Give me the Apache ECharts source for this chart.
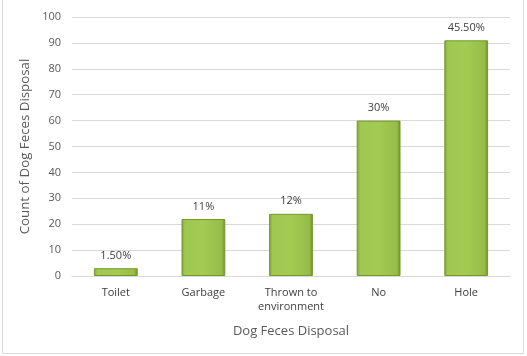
<!DOCTYPE html>
<html><head><meta charset="utf-8">
<script src="https://cdn.jsdelivr.net/npm/echarts@6/dist/echarts.min.js"></script>
<style>html,body{margin:0;padding:0;background:#fff}#c{width:527px;height:356px}</style>
</head><body><div id="c"></div>
<script>
const categories = ['Toilet', 'Garbage', 'Thrown to\nenvironment', 'No', 'Hole'];
const counts = [3, 22, 24, 60, 91];
const percentLabels = ['1.50%', '11%', '12%', '30%', '45.50%'];
const yTicks = [0, 10, 20, 30, 40, 50, 60, 70, 80, 90, 100];

const chart = echarts.init(document.getElementById('c'), null, {renderer: 'canvas'});
const font = '"Open Sans", "Noto Sans", sans-serif';
chart.setOption({
  animation: false,
  backgroundColor: '#fff',
  grid: {left: 72, right: 17, top: 17, bottom: 80},
  xAxis: {
    type: 'category', data: categories,
    name: 'Dog Feces Disposal', nameLocation: 'middle', nameGap: 49,
    nameTextStyle: {color: '#595959', fontSize: 13, fontFamily: font},
    axisLine: {lineStyle: {color: '#d9d9d9'}},
    axisTick: {show: false},
    axisLabel: {color: '#404040', fontSize: 11, fontFamily: font, margin: 10, lineHeight: 14}
  },
  yAxis: {
    type: 'value', min: yTicks[0], max: yTicks[yTicks.length - 1], interval: 10,
    name: 'Count of Dog Feces Disposal', nameLocation: 'middle', nameGap: 34,
    nameTextStyle: {color: '#595959', fontSize: 13.3, fontFamily: font},
    axisLine: {show: false}, axisTick: {show: false},
    axisLabel: {color: '#595959', fontSize: 11, fontFamily: font, margin: 11},
    splitLine: {lineStyle: {color: '#d9d9d9'}}
  },
  series: [{
    type: 'bar', data: counts, barWidth: '50%',
    itemStyle: {
      color: new echarts.graphic.LinearGradient(0, 0, 1, 0, [
        {offset: 0, color: '#82a338'},
        {offset: 0.08, color: '#a0c850'},
        {offset: 0.5, color: '#a3cb53'},
        {offset: 0.92, color: '#96bc48'},
        {offset: 1, color: '#6c8a2a'}
      ]),
      borderColor: '#77962f', borderWidth: 1
    },
    label: {
      show: true, position: 'top', distance: 7,
      formatter: p => percentLabels[p.dataIndex],
      color: '#404040', fontSize: 11, fontFamily: font
    }
  }],
  graphic: [
    {type: 'rect', shape: {x: 2.5, y: -2, width: 521, height: 355.5}, style: {fill: null, stroke: '#d9d9d9', lineWidth: 1}, silent: true}
  ]
});
</script></body></html>
